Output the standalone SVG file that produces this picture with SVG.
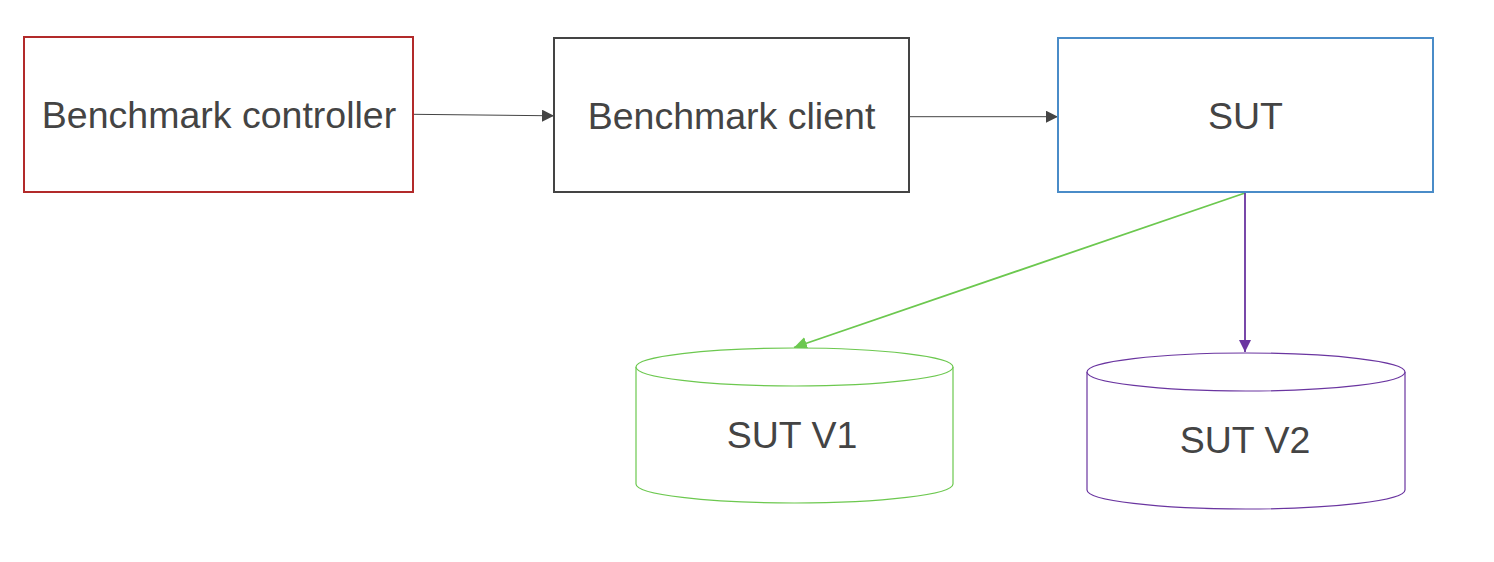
<svg xmlns="http://www.w3.org/2000/svg" width="1494" height="562" viewBox="0 0 1494 562">
<style>
text{font-family:"Liberation Sans",Arial,sans-serif;font-size:37.5px;fill:#444444;text-anchor:middle}
.box{fill:#ffffff;stroke-width:2}
.cyl{fill:#ffffff;stroke-width:1.2}
</style>
<defs>
<marker id="ah" viewBox="0 0 10 10" refX="10" refY="5" markerWidth="12" markerHeight="12" markerUnits="userSpaceOnUse" orient="auto"><path d="M0,0 L10,5 L0,10 z" fill="#444444"/></marker>
<marker id="ahg" viewBox="0 0 10 10" refX="10" refY="5" markerWidth="13" markerHeight="13" markerUnits="userSpaceOnUse" orient="auto"><path d="M0,0 L10,5 L0,10 z" fill="#6cc84f"/></marker>
<marker id="ahp" viewBox="0 0 10 10" refX="10" refY="5" markerWidth="12" markerHeight="12" markerUnits="userSpaceOnUse" orient="auto"><path d="M0,0 L10,5 L0,10 z" fill="#6a35a0"/></marker>
</defs>
<rect width="1494" height="562" fill="#ffffff"/>
<g id="connectors" fill="none">
<line x1="413" y1="114.3" x2="554" y2="115.8" stroke="#444444" stroke-width="1" marker-end="url(#ah)"/>
<line x1="909" y1="116.7" x2="1058" y2="116.7" stroke="#444444" stroke-width="1" marker-end="url(#ah)"/>
<line x1="1245" y1="193" x2="794" y2="347.5" stroke="#6cc84f" stroke-width="1.8" marker-end="url(#ahg)"/>
<line x1="1245" y1="193" x2="1245" y2="352" stroke="#6a35a0" stroke-width="1.8" marker-end="url(#ahp)"/>
</g>
<g id="controller">
<rect class="box" x="24" y="37" width="389" height="155" stroke="#b22a2a"/>
<text x="219" y="128">Benchmark controller</text>
</g>
<g id="client">
<rect class="box" x="554" y="38" width="355" height="154" stroke="#444444"/>
<text x="731.5" y="129">Benchmark client</text>
</g>
<g id="sut">
<rect class="box" x="1058" y="38" width="375" height="154" stroke="#4a8cc8"/>
<text x="1245.5" y="129">SUT</text>
</g>
<g id="sutv1">
<path class="cyl" stroke="#6cc84f" d="M636,367 A158.5,19 0 0 1 953,367 V484 A158.5,19 0 0 1 636,484 Z"/>
<path class="cyl" fill="none" stroke="#6cc84f" d="M636,367 A158.5,19 0 0 0 953,367"/>
<text x="792" y="448">SUT V1</text>
</g>
<g id="sutv2">
<path class="cyl" stroke="#6a35a0" d="M1087,372 A159,19 0 0 1 1405,372 V490 A159,19 0 0 1 1087,490 Z"/>
<path class="cyl" fill="none" stroke="#6a35a0" d="M1087,372 A159,19 0 0 0 1405,372"/>
<text x="1245" y="453">SUT V2</text>
</g>
</svg>
